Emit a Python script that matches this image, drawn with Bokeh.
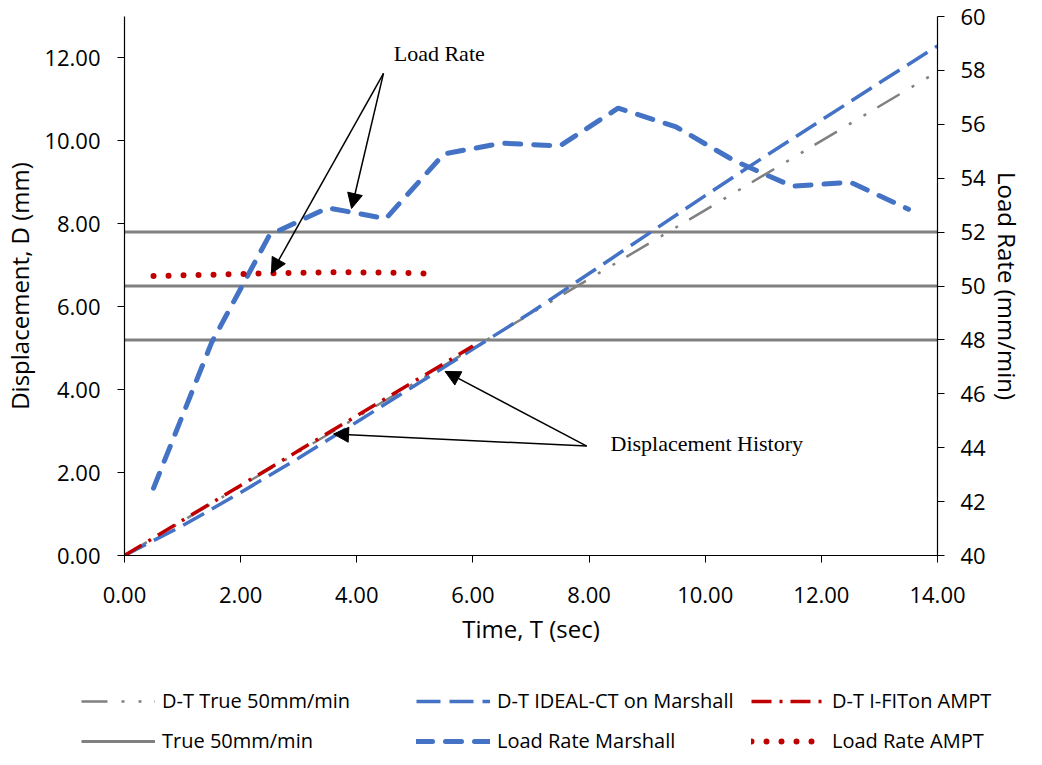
from bokeh.plotting import figure
from bokeh.models import (Range1d, LinearAxis, FixedTicker, PrintfTickFormatter,
                          Legend, LegendItem, Label, Arrow, NormalHead)
from bokeh.embed import file_html
from bokeh.resources import INLINE

# ---------------- data ----------------
time_true = [0, 2, 4, 6, 8, 10, 12, 14]
disp_true = [0, 1.67, 3.33, 5.00, 6.67, 8.33, 10.00, 11.67]

time_marshall_disp = [0, 1, 2, 3, 4, 5, 6, 7, 8, 9, 10, 11, 12, 13, 14]
disp_marshall = [0, 0.72, 1.52, 2.35, 3.22, 4.10, 4.98, 5.86, 6.80, 7.74,
                 8.68, 9.60, 10.50, 11.40, 12.29]

time_ampt_disp = [0, 1, 2, 3, 4, 5, 6]
disp_ampt = [0, 0.85, 1.69, 2.53, 3.37, 4.21, 5.05]

rate_levels = [48, 50, 52]
rate_span = [0, 14]

time_rate_marshall = [0.5, 1.5, 2.5, 3.5, 4.5, 5.5, 6.5, 7.5, 8.5, 9.5,
                      10.5, 11.5, 12.5, 13.5]
rate_marshall = [42.5, 47.9, 51.9, 52.9, 52.5, 54.9, 55.3, 55.2, 56.6, 55.9,
                 54.65, 53.7, 53.85, 52.85]

time_rate_ampt = [0.5, 1.5, 2.5, 3.5, 4.5, 5.4]
rate_ampt = [50.37, 50.42, 50.47, 50.51, 50.50, 50.45]

x_ticks = [0, 2, 4, 6, 8, 10, 12, 14]
y_ticks = [0, 2, 4, 6, 8, 10, 12]
rate_ticks = [40, 42, 44, 46, 48, 50, 52, 54, 56, 58, 60]

legend_labels = ["D-T True 50mm/min", "D-T IDEAL-CT on Marshall", "D-T I-FITon AMPT",
                 "True 50mm/min", "Load Rate Marshall", "Load Rate AMPT"]

# annotations (data coordinates on time / displacement axes)
load_text_pos = (5.42, 12.11)
load_arrow_start = (4.46, 11.63)
load_arrow_tips = [(2.53, 6.81), (3.91, 8.37)]
disp_text_pos = (8.37, 2.69)
disp_arrow_start = (7.96, 2.64)
disp_arrow_tips = [(5.52, 4.44), (3.60, 2.93)]

BLUE = "#4472C4"
RED = "#C00000"
GRAY = "#808080"
FONT = "Open Sans"

styles = [
    dict(line_color=GRAY, line_width=2.5, line_dash="26 14 3 14 3 13"),
    dict(line_color=BLUE, line_width=3.5, line_dash="24 9"),
    dict(line_color=RED, line_width=3.5, line_dash="20 8 3 8"),
    dict(line_color=GRAY, line_width=3),
    dict(line_color=BLUE, line_width=5, line_dash="16 13", line_cap="round"),
    dict(line_color=RED, line_width=6, line_dash="0 15", line_cap="round"),
]

p = figure(width=1026, height=647,
           x_range=Range1d(0, 14), y_range=Range1d(0, 13),
           output_backend="svg", toolbar_location=None,
           min_border_top=16, min_border_left=123, min_border_right=0,
           min_border_bottom=0)
p.extra_y_ranges = {"rate": Range1d(40, 60)}
p.xgrid.visible = False
p.ygrid.visible = False
p.outline_line_color = None

# horizontal reference lines (True 50mm/min +/- 2)
p.segment(x0=[rate_span[0]] * 3, x1=[rate_span[1]] * 3,
          y0=rate_levels, y1=rate_levels, y_range_name="rate", **styles[3])
p.line(time_rate_marshall, rate_marshall, y_range_name="rate", **styles[4])
p.line(time_rate_ampt, rate_ampt, y_range_name="rate", **styles[5])
p.line(time_true, disp_true, **styles[0])
p.line(time_marshall_disp, disp_marshall, **styles[1])
p.line(time_ampt_disp, disp_ampt, **styles[2])

# axes
xa = p.xaxis[0]
xa.ticker = FixedTicker(ticks=x_ticks)
xa.formatter = PrintfTickFormatter(format="%.2f")
xa.axis_label = "Time, T (sec)"

ya = p.yaxis[0]
ya.ticker = FixedTicker(ticks=y_ticks)
ya.formatter = PrintfTickFormatter(format="%.2f")
ya.axis_label = "Displacement, D (mm)"

ra = LinearAxis(y_range_name="rate", ticker=FixedTicker(ticks=rate_ticks),
                axis_label="Load Rate (mm/min)")
p.add_layout(ra, "right")

for ax in (xa, ya, ra):
    ax.minor_tick_line_color = None
    ax.major_tick_out = 7
    ax.major_tick_in = 0
    ax.axis_line_color = "black"
    ax.major_tick_line_color = "black"
    ax.axis_line_width = 1.2
    ax.major_label_text_font = FONT
    ax.major_label_text_font_size = "22px"
    ax.major_label_text_color = "black"
    ax.axis_label_text_font = FONT
    ax.axis_label_text_font_size = "24px"
    ax.axis_label_text_font_style = "normal"
    ax.axis_label_text_color = "black"

xa.major_label_standoff = 24
xa.axis_label_standoff = 6
ya.major_label_standoff = 17
ya.axis_label_standoff = 5
ra.major_label_standoff = 16
ra.axis_label_standoff = 2

# annotations
p.add_layout(Label(x=load_text_pos[0], y=load_text_pos[1], text="Load Rate",
                   text_font="Liberation Serif", text_font_size="22px",
                   text_align="center", text_baseline="middle", text_color="black"))
p.add_layout(Label(x=disp_text_pos[0], y=disp_text_pos[1], text="Displacement  History",
                   text_font="Liberation Serif", text_font_size="22px",
                   text_align="left", text_baseline="middle", text_color="black"))
for (sx, sy), tips in ((load_arrow_start, load_arrow_tips), (disp_arrow_start, disp_arrow_tips)):
    for tx, ty in tips:
        p.add_layout(Arrow(end=NormalHead(size=15, fill_color="black", line_color="black",
                                          line_width=1),
                           x_start=sx, y_start=sy, x_end=tx, y_end=ty,
                           line_color="black", line_width=1.5))

# ---------------- legend strip (separate root, full-width frame) ----------------
lg = figure(width=1026, height=102, output_backend="svg", toolbar_location=None,
            x_axis_location=None, y_axis_location=None,
            x_range=Range1d(0, 1), y_range=Range1d(0, 1),
            min_border=0, min_border_left=0, min_border_right=0,
            min_border_top=0, min_border_bottom=0)
lg.xgrid.visible = False
lg.ygrid.visible = False
lg.outline_line_color = None
nan = float("nan")
dummies = [lg.line([nan, nan], [nan, nan], **st) for st in styles]
order = [0, 3, 1, 4, 2, 5]   # column-major fill -> row-major appearance
legend = Legend(items=[LegendItem(label=legend_labels[i], renderers=[dummies[i]]) for i in order],
                ncols=3, location=(81, -5),
                glyph_width=74, glyph_height=24, label_height=24, label_width=241,
                label_standoff=7, spacing=13, padding=0, margin=0,
                border_line_color=None, background_fill_alpha=0,
                label_text_font=FONT, label_text_font_size="20px", label_text_color="black")
lg.add_layout(legend, "center")

open("out.html", "w").write(file_html([p, lg], INLINE))
